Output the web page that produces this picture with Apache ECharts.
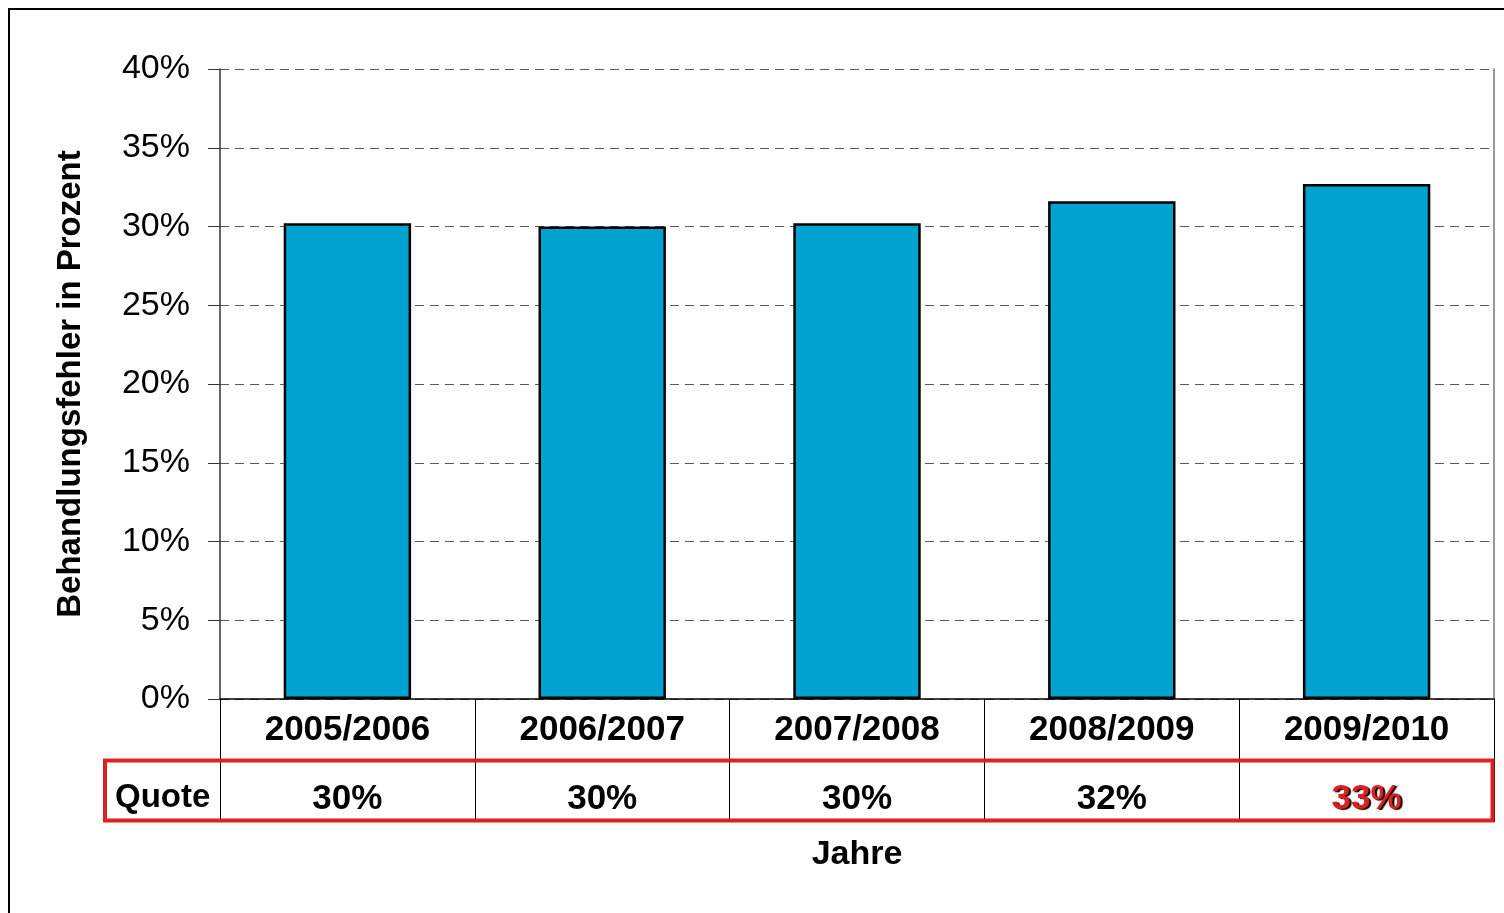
<!DOCTYPE html>
<html>
<head>
<meta charset="utf-8">
<script src="https://cdn.jsdelivr.net/npm/echarts@6/dist/echarts.min.js"></script>
<style>
  html, body { margin: 0; padding: 0; background: #fff; }
  #chart { width: 1504px; height: 913px; }
</style>
</head>
<body>
<div id="chart"></div>
<script>
// Jahre (Kategorien) und Quoten
const years = ['2005/2006', '2006/2007', '2007/2008', '2008/2009', '2009/2010']
const errorRates = [30.2, 30.0, 30.2, 31.6, 32.7]
const quoteLabels = ['30%', '30%', '30%', '32%', '33%']
const highlightIndex = 4

const font = 'Liberation Sans, Arial, sans-serif'

const chart = echarts.init(document.getElementById('chart'))

const option = {
  animation: false,
  backgroundColor: '#fff',
  grid: { left: 220, right: 10, top: 69, bottom: 214 },
  xAxis: {
    type: 'category',
    data: years,
    name: 'Jahre',
    nameLocation: 'middle',
    nameGap: 139,
    nameTextStyle: { fontFamily: font, fontSize: 34, fontWeight: 'bold', color: '#000' },
    axisLine: { show: true, lineStyle: { color: '#000', width: 1.5 } },
    axisTick: { show: true, length: 123, lineStyle: { color: '#000', width: 1 } },
    axisLabel: {
      interval: 0,
      margin: 1,
      formatter: (value, idx) => {
        const q = idx === highlightIndex ? '{r|' + quoteLabels[idx] + '}' : '{q|' + quoteLabels[idx] + '}'
        return '{c|' + value + '}\n' + q
      },
      rich: {
        c: { fontFamily: font, fontSize: 35, fontWeight: 'bold', color: '#000', lineHeight: 60 },
        q: { fontFamily: font, fontSize: 35, fontWeight: 'bold', color: '#000', lineHeight: 78 },
        r: {
          fontFamily: font, fontSize: 35, fontWeight: 'bold', color: '#dd1f1f', lineHeight: 78,
          textShadowColor: '#000', textShadowOffsetX: 2, textShadowOffsetY: 1.5, textShadowBlur: 1
        }
      }
    }
  },
  yAxis: [
    {
      type: 'value',
      min: 0,
      max: 40,
      interval: 5,
      name: 'Behandlungsfehler in Prozent',
      nameLocation: 'middle',
      nameRotate: 90,
      nameGap: 133,
      nameTextStyle: { fontFamily: font, fontSize: 33, fontWeight: 'bold', color: '#000' },
      axisLine: { show: true, lineStyle: { color: '#333', width: 1.5 } },
      axisTick: { show: true, length: 12, lineStyle: { color: '#333' } },
      axisLabel: {
        formatter: '{value}%',
        margin: 30,
        fontFamily: font,
        fontSize: 34,
        color: '#000'
      },
      splitLine: { show: true, lineStyle: { color: '#5a5a5a', type: [9, 6], width: 1.2 } }
    },
    {
      type: 'value',
      min: 0,
      max: 40,
      position: 'right',
      axisLine: { show: true, lineStyle: { color: '#777', width: 1.5 } },
      axisTick: { show: false },
      axisLabel: { show: false },
      splitLine: { show: false }
    }
  ],
  graphic: [
    {
      type: 'polyline',
      shape: { points: [[9, 913], [9, 9], [1504, 9]] },
      style: { stroke: '#000', lineWidth: 2, fill: null }
    },
    {
      type: 'text',
      left: 115,
      top: 781,
      style: { text: 'Quote', fontFamily: font, fontSize: 33, fontWeight: 'bold', fill: '#000' }
    },
    {
      type: 'rect',
      shape: { x: 105, y: 760.5, width: 1387.5, height: 60 },
      style: { stroke: '#dd2020', lineWidth: 4, fill: null },
      z: 100
    }
  ],
  series: [
    {
      type: 'bar',
      data: errorRates,
      barWidth: '50%',
      itemStyle: { color: '#00a3cf', borderColor: '#000', borderWidth: 2.5 }
    }
  ]
}

chart.setOption(option)
</script>
</body>
</html>
